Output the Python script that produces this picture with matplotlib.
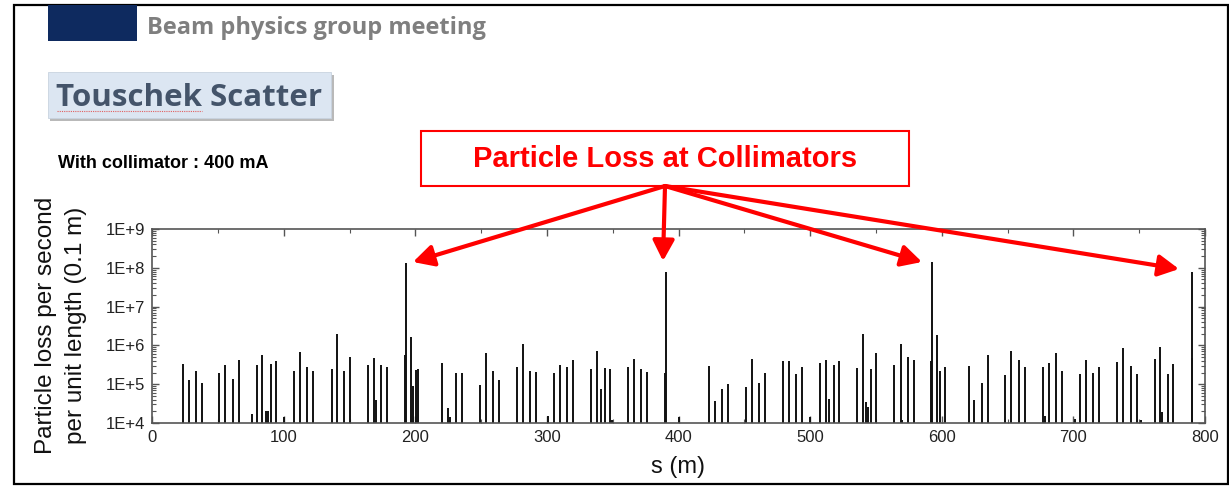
import numpy as np
import matplotlib
matplotlib.use('Agg')
import matplotlib.pyplot as plt
from matplotlib.patches import Rectangle, FancyArrowPatch
from matplotlib.ticker import FixedLocator, LogLocator, FuncFormatter, NullFormatter

# --- data --------------------------------------------------------------
# s position of each loss spike (m) and its height (particles / s / 0.1 m)
spike_s = [
    23.1, 27.6, 33.2, 37.8, 50.9, 55.5, 61.1, 65.7, 75.5, 79.3,
    83.4, 86.4, 87.9, 90.0, 94.0, 100.1, 107.7, 112.0, 117.8, 122.1,
    136.3, 140.1, 145.7, 150.5, 164.2, 168.5, 170.3, 174.0, 178.6, 192.0,
    193.0, 196.6, 198.0, 200.4, 201.9, 220.2, 225.0, 226.2, 230.6, 235.1,
    249.0, 253.4, 258.7, 263.3, 277.4, 281.5, 287.0, 291.6, 300.6, 305.3,
    309.6, 314.9, 319.7, 333.4, 337.7, 341.0, 343.8, 348.1, 349.6, 361.8,
    366.1, 371.7, 376.2, 389.9, 390.4, 400.1, 422.8, 427.4, 433.0, 437.3,
    451.0, 455.5, 461.3, 465.6, 479.1, 483.7, 489.4, 494.0, 500.0, 507.7,
    512.0, 514.0, 518.1, 522.2, 535.6, 540.2, 542.5, 544.0, 546.0, 550.0,
    564.0, 568.6, 569.5, 574.4, 578.7, 592.0, 592.6, 596.4, 598.7, 602.5,
    620.4, 624.1, 630.3, 634.9, 648.3, 652.9, 658.5, 663.3, 676.7, 678.5,
    681.2, 686.8, 691.4, 701.2, 705.0, 709.6, 715.2, 719.7, 733.4, 738.0,
    743.6, 748.2, 751.0, 761.8, 765.9, 767.4, 771.7, 776.0, 789.8, 790.2,
]
spike_loss = [
    3.4e5, 1.3e5, 2.2e5, 1.05e5, 1.9e5, 3.1e5, 1.4e5, 4.1e5, 1.7e4, 3.1e5,
    5.6e5, 2.0e4, 2.0e4, 3.3e5, 4.0e5, 1.4e4, 2.2e5, 6.8e5, 2.8e5, 2.2e5,
    2.5e5, 2.0e6, 2.2e5, 4.9e5, 3.1e5, 4.7e5, 4.0e4, 3.2e5, 2.7e5, 5.8e5,
    1.3e8, 1.66e6, 9.0e4, 2.3e5, 2.5e5, 3.6e5, 2.4e4, 1.4e4, 1.9e5, 2.0e5,
    9.5e4, 6.4e5, 2.2e5, 1.3e5, 2.8e5, 1.1e6, 2.2e5, 2.1e5, 1.5e4, 2.0e5,
    3.1e5, 2.8e5, 4.1e5, 2.4e5, 7.3e5, 7.4e4, 2.6e5, 2.4e5, 1.2e4, 2.7e5,
    4.4e5, 2.4e5, 2.1e5, 1.9e5, 7.8e7, 1.4e4, 2.9e5, 3.7e4, 7.4e4, 1.0e5,
    8.3e4, 4.4e5, 1.05e5, 2.0e5, 4.0e5, 3.9e5, 1.8e5, 2.7e5, 1.4e4, 3.6e5,
    4.1e5, 4.2e4, 3.2e5, 4.0e5, 2.6e5, 2.0e6, 3.5e4, 2.6e4, 2.5e5, 6.3e5,
    3.1e5, 1.1e6, 1.2e4, 5.1e5, 4.1e5, 4.0e5, 1.4e8, 1.9e6, 2.2e5, 2.7e5,
    2.9e5, 4.0e4, 1.1e5, 5.6e5, 1.7e5, 7.3e5, 4.1e5, 2.8e5, 2.8e5, 1.5e4,
    3.6e5, 6.3e5, 2.2e5, 1.3e4, 1.8e5, 4.1e5, 1.9e5, 2.8e5, 3.8e5, 8.5e5,
    3.0e5, 1.8e5, 1.2e4, 4.5e5, 8.9e5, 1.9e4, 1.8e5, 3.3e5, 4.7e5, 7.6e7,
]

x_ticks = [0, 100, 200, 300, 400, 500, 600, 700, 800]
y_ticks = [1e4, 1e5, 1e6, 1e7, 1e8, 1e9]

header_text = 'Beam physics group meeting'
slide_title = 'Touschek Scatter'
subtitle = 'With collimator : 400 mA'
callout_text = 'Particle Loss at Collimators'

# --- slide geometry (pixels, origin top-left) ----------------------------
W, H = 1229, 490


def fx(x):
    return x / W


def fy(y):
    return 1 - y / H


def add_rect(fig, x0, y0, x1, y1, **kw):
    r = Rectangle((fx(x0), fy(y1)), (x1 - x0) / W, (y1 - y0) / H,
                  transform=fig.transFigure, **kw)
    fig.add_artist(r)
    return r


fig = plt.figure(figsize=(W / 100, H / 100), dpi=100)
fig.patch.set_facecolor('white')

# slide frame
add_rect(fig, 14, 5, 1228, 484, fill=False, edgecolor='black', linewidth=1.6)

# header band
add_rect(fig, 48, 5, 137, 41, facecolor='#0e2a5f', edgecolor='none')
fig.text(fx(147), fy(28), header_text, fontsize=17, fontweight='bold',
         family=['Open Sans', 'DejaVu Sans'], color='#7f7f7f',
         ha='left', va='center')

# title box with a soft shadow
add_rect(fig, 50, 75, 334, 121, facecolor='#b9b9b9', edgecolor='none')
add_rect(fig, 48, 72, 331, 118, facecolor='#dce6f2', edgecolor='#c8d3e0',
         linewidth=0.6)
fig.text(fx(56), fy(98), slide_title, fontsize=22.5, fontweight='bold',
         family=['Open Sans', 'DejaVu Sans'], color='#44546a',
         ha='left', va='center')
# spell-check squiggle under "Touschek"
fig.add_artist(plt.Line2D([fx(57), fx(202)], [fy(111), fy(111)],
                          transform=fig.transFigure, color='#e06060',
                          linewidth=0.8, linestyle=(0, (1, 1))))

fig.text(fx(58), fy(163), subtitle, fontsize=13, fontweight='bold',
         family='Liberation Sans', color='black', ha='left', va='center')

# --- the plot ------------------------------------------------------------
ax_l, ax_r, ax_t, ax_b = 152.3, 1205, 229, 423
ax = fig.add_axes([fx(ax_l), fy(ax_b), (ax_r - ax_l) / W, (ax_b - ax_t) / H])

ax.vlines(spike_s, 1e4, spike_loss, colors='#111111', linewidth=1.4)

ax.set_yscale('log')
ax.set_xlim(0, 800)
ax.set_ylim(1e4, 1e9)

ax.xaxis.set_major_locator(FixedLocator(x_ticks))
ax.xaxis.set_minor_locator(FixedLocator(np.arange(50, 800, 100)))
ax.yaxis.set_major_locator(FixedLocator(y_ticks))
ax.yaxis.set_minor_locator(LogLocator(base=10, subs=np.arange(2, 10)))
ax.yaxis.set_minor_formatter(NullFormatter())
ax.yaxis.set_major_formatter(
    FuncFormatter(lambda v, p: '1E+%d' % int(round(np.log10(v)))))

for sp in ax.spines.values():
    sp.set_color('#555555')
    sp.set_linewidth(1.2)

ax.tick_params(which='both', direction='in', top=True, right=True,
               color='#555555', labelsize=12, labelcolor='#222222')
ax.tick_params(which='major', length=5, width=1)
ax.tick_params(which='minor', length=3, width=0.8)
ax.tick_params(axis='x', pad=5)
ax.tick_params(axis='y', pad=5)
for lab in ax.get_xticklabels() + ax.get_yticklabels():
    lab.set_family('Liberation Sans')

ax.set_xlabel('s (m)', fontsize=17, family='Liberation Sans', color='#111111')
ax.xaxis.set_label_coords(0.499, -0.17)
ax.set_ylabel('Particle loss per second\nper unit length (0.1 m)',
              fontsize=17.5, family='Liberation Sans', color='#111111',
              linespacing=1.5)
ax.yaxis.set_label_coords(-0.062, 0.505)

# --- callout box and arrows ---------------------------------------------
add_rect(fig, 421, 131, 909, 186, fill=False, edgecolor='#ff0000',
         linewidth=1.5)
fig.text(fx(665), fy(159), callout_text, fontsize=21, fontweight='bold',
         family='Liberation Sans', color='#ff0000', ha='center',
         va='center')

arrow_origin = (665, 186)
arrow_tips = [(413, 262), (663, 261), (922, 262), (1179, 269)]
for tx, ty in arrow_tips:
    arr = FancyArrowPatch((fx(arrow_origin[0]), fy(arrow_origin[1])),
                          (fx(tx), fy(ty)), transform=fig.transFigure,
                          arrowstyle='-|>,head_length=0.95,head_width=0.5',
                          mutation_scale=13, color='#ff0000',
                          linewidth=3, shrinkA=0, shrinkB=0)
    fig.add_artist(arr)

fig.savefig('out.png', dpi=100, facecolor=fig.get_facecolor())
